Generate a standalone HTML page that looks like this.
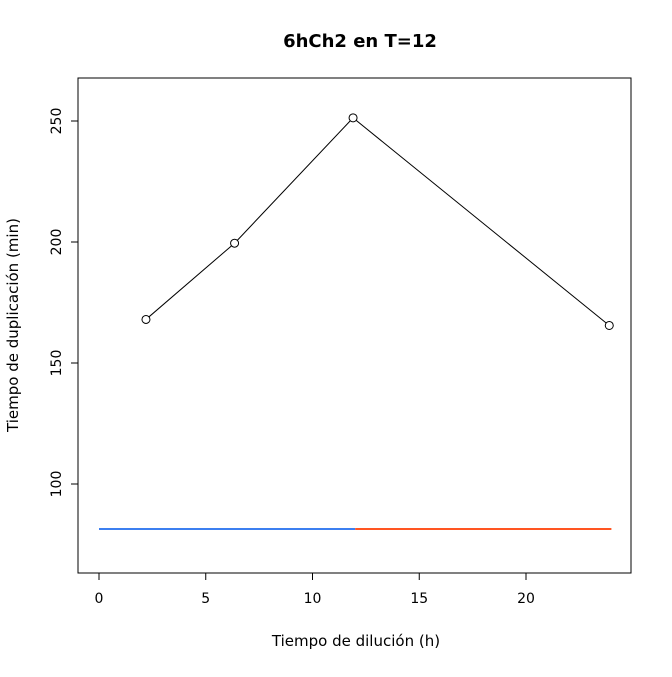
<!DOCTYPE html>
<html><head><meta charset="utf-8"><style>
body{margin:0;background:#fff}
svg text{font-family:"DejaVu Sans","Liberation Sans",sans-serif;fill:#000}
</style></head><body>
<svg id="chart" width="672" height="672" viewBox="0 0 672 672">
<rect width="672" height="672" fill="#fff"/>
<text x="360" y="47" font-size="18" font-weight="bold" text-anchor="middle">6hCh2 en T=12</text>
<rect x="78" y="78" width="553" height="495" fill="none" stroke="#000"/>
<g id="axes"></g>
<g id="marks"></g>
<text x="356" y="646" font-size="15" text-anchor="middle">Tiempo de dilución (h)</text>
<text transform="translate(18,325) rotate(-90)" font-size="15" text-anchor="middle">Tiempo de duplicación (min)</text>
</svg>
<script>
const xVals=[2.2,6.35,11.9,23.9];
const yVals=[168,199.5,251.3,165.5];
const refValue=81.4;
const refSegments=[[0,12],[12,24]];
const refColors=["#3c7ff0","#ff5522"];
const xTicks=[0,5,10,15,20];
const yTicks=[100,150,200,250];
const NS="http://www.w3.org/2000/svg";
function sx(v){return 99+v*21.35;}
function sy(v){return 121+(250-v)*2.42;}
function mk(t,a,p){const e=document.createElementNS(NS,t);for(const k in a)e.setAttribute(k,a[k]);p.appendChild(e);return e;}
const axes=document.getElementById('axes'),marks=document.getElementById('marks');
mk('line',{x1:sx(0),x2:sx(20),y1:573,y2:573,stroke:'#000'},axes);
xTicks.forEach(v=>{
 mk('line',{x1:sx(v),x2:sx(v),y1:573,y2:580,stroke:'#000'},axes);
 const t=mk('text',{x:sx(v),y:603,'font-size':14,'text-anchor':'middle'},axes);t.textContent=v;
 
 
});
mk('line',{x1:78,x2:78,y1:sy(100),y2:sy(250),stroke:'#000'},axes);
yTicks.forEach(v=>{
 mk('line',{x1:71,x2:78,y1:sy(v),y2:sy(v),stroke:'#000'},axes);
 const t=mk('text',{transform:`translate(61,${sy(v)}) rotate(-90)`,'font-size':14,'text-anchor':'middle'},axes);t.textContent=v;
 
 
});
refSegments.forEach((s,i)=>{
 const l=mk('line',{x1:sx(s[0]),x2:sx(s[1]),y1:sy(refValue),y2:sy(refValue),stroke:refColors[i],'stroke-width':2},marks);
 
 
});
const pl=mk('polyline',{points:xVals.map((x,i)=>sx(x)+','+sy(yVals[i])).join(' '),fill:'none',stroke:'#000','stroke-width':1},marks);


xVals.forEach((x,i)=>{
 const c=mk('circle',{cx:sx(x),cy:sy(yVals[i]),r:4,fill:'#fff',stroke:'#000'},marks);
 
 
});
</script>
</body></html>
